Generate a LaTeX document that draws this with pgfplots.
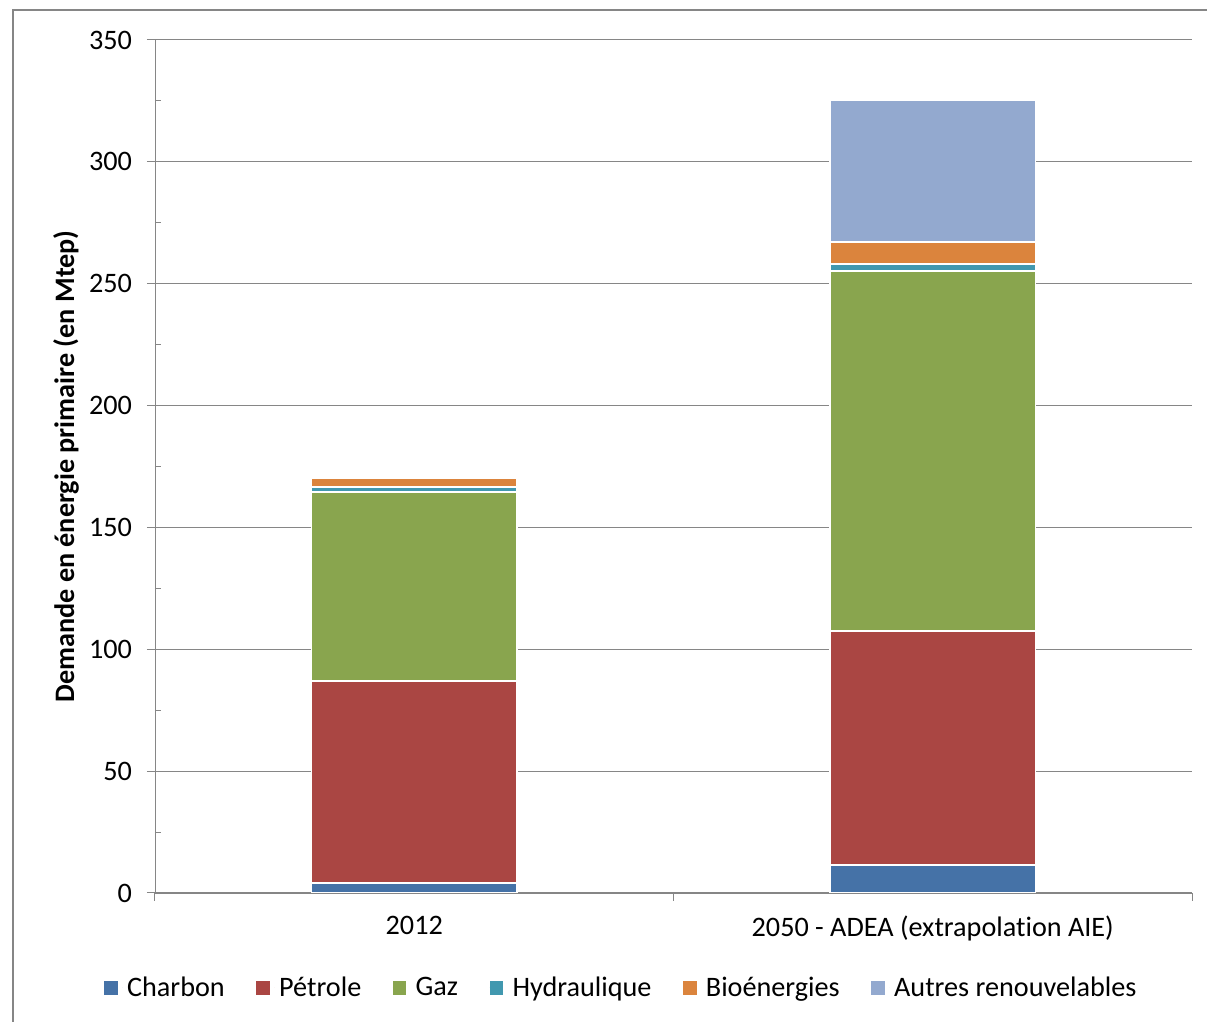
\documentclass[border=0pt]{standalone}
\usepackage{pgfplots}
\pgfplotsset{compat=1.18}
\usepackage{fontspec}
\setmainfont{Carlito}[Ligatures=NoCommon]
\definecolor{cCharbon}{HTML}{4572A7}
\definecolor{cPetrole}{HTML}{AA4643}
\definecolor{cGaz}{HTML}{89A54E}
\definecolor{cHydro}{HTML}{4198AF}
\definecolor{cBio}{HTML}{DB843D}
\definecolor{cAutres}{HTML}{93A9CF}
\definecolor{gridgray}{HTML}{868686}
\newcommand{\lbl}{\fontsize{14.1}{16}\selectfont}
\begin{document}
\begin{tikzpicture}
\useasboundingbox (0,0) rectangle (603.5pt,511pt);
\fill[white] (0,0) rectangle (603.5pt,511pt);
\draw[gridgray, line width=1pt] (6.5pt,-5pt) -- (6.5pt,506pt) -- (610pt,506pt);
\begin{axis}[
  at={(77.5pt,64.5pt)}, anchor=south west,
  scale only axis, width=518.5pt, height=426.5pt,
  ybar stacked, bar width=0.396,
  xmin=-0.5, xmax=1.5, ymin=0, ymax=350,
  axis lines*=left,
  axis line style={gridgray},
  ytick={0,50,...,350},
  minor y tick num=1,
  ymajorgrids, major grid style={gridgray, line width=0.5pt},
  tick style={gridgray, line width=0.5pt},
  tick align=outside,
  major tick length=4pt,
  minor tick length=3pt,
  minor tick style={xshift=3pt},
  xtick={0,1},
  xticklabels={2012, 2050 - ADEA (extrapolation AIE)},
  x tick style={draw=none},
  extra x ticks={-0.5,0.5,1.5},
  extra x tick labels={},
  extra x tick style={x tick style={draw=gridgray}, major tick length=4pt, grid=none},
  /pgf/number format/assume math mode=true,
  tick label style={font=\lbl, text=black},
  xticklabel style={yshift=-4pt},
  yticklabel style={xshift=-4pt},
  ylabel={\textbf{Demande en énergie primaire (en Mtep)}},
  ylabel style={font=\lbl, at={(axis description cs:-0.0858,0.5)}, anchor=center},
  legend columns=6,
  legend style={at={(rel axis cs:0.4503,0)}, anchor=center, yshift=-47.5pt, draw=none, font=\lbl,
    /tikz/every even column/.append style={column sep=13.4pt}},
  legend image code/.code={\path (0pt,0pt) -- (9pt,0pt); \path[#1,draw=none] (0pt,-3.4pt) rectangle (6.8pt,3.4pt);},
  every axis plot/.append style={draw=white, line width=0.8pt},
]
\addplot[fill=cCharbon] coordinates {(0,4) (1,11.5)};
\addplot[fill=cPetrole] coordinates {(0,83) (1,96)};
\addplot[fill=cGaz] coordinates {(0,77.5) (1,147.7)};
\addplot[fill=cHydro] coordinates {(0,2) (1,3)};
\addplot[fill=cBio] coordinates {(0,3.7) (1,9)};
\addplot[fill=cAutres] coordinates {(0,0) (1,58)};
\legend{Charbon, Pétrole, Gaz, Hydraulique, Bioénergies, Autres renouvelables}
\end{axis}
\end{tikzpicture}
\end{document}
